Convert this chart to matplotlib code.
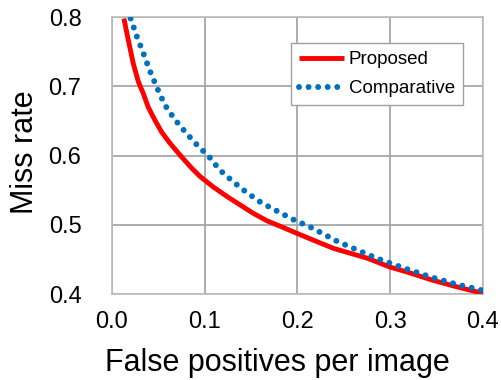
import matplotlib
matplotlib.use("Agg")
import matplotlib.pyplot as plt

plt.rcParams['font.family'] = ['Liberation Sans', 'DejaVu Sans']

# Proposed (red solid)
prop_x = [0.0129, 0.0176, 0.0230, 0.0284, 0.0337, 0.0391, 0.0464, 0.0536, 0.0625,
          0.0752, 0.0859, 0.0949, 0.109, 0.124, 0.138, 0.152, 0.167, 0.185, 0.199,
          0.217, 0.239, 0.275, 0.300, 0.318, 0.346, 0.372, 0.400]
prop_y = [0.798, 0.767, 0.733, 0.707, 0.690, 0.670, 0.651, 0.634, 0.618,
          0.598, 0.582, 0.570, 0.555, 0.541, 0.529, 0.517, 0.506, 0.496, 0.488,
          0.478, 0.466, 0.452, 0.439, 0.432, 0.420, 0.4105, 0.401]

# Comparative (blue dotted)
comp_x = [0.0201, 0.0266, 0.0338, 0.041, 0.0489, 0.0571, 0.0679, 0.0798, 0.092,
          0.105, 0.1164, 0.131, 0.145, 0.161, 0.178, 0.195, 0.2135, 0.2307, 0.240,
          0.257, 0.285, 0.314, 0.343, 0.372, 0.395, 0.400]
comp_y = [0.798, 0.773, 0.748, 0.722, 0.697, 0.673, 0.652, 0.633, 0.615,
          0.598, 0.579, 0.562, 0.547, 0.532, 0.520, 0.508, 0.497, 0.485, 0.478,
          0.468, 0.452, 0.438, 0.425, 0.414, 0.407, 0.405]

xticks = [0.0, 0.1, 0.2, 0.3, 0.4]
yticks = [0.4, 0.5, 0.6, 0.7, 0.8]

fig = plt.figure(figsize=(5.02, 3.80), dpi=100)
ax = fig.add_axes([0.223, 0.226, 0.739, 0.729])

ax.plot(prop_x, prop_y, color='#FF0000', lw=3.5, label='Proposed',
        solid_capstyle='butt', solid_joinstyle='round', zorder=3)
ax.plot(comp_x, comp_y, color='#0070C0', lw=4.3, linestyle=(0, (0.001, 1.6)),
        dash_capstyle='round', label='Comparative', zorder=4)

ax.set_xlim(0, 0.4)
ax.set_ylim(0.4, 0.8)
ax.set_xticks(xticks)
ax.set_yticks(yticks)
ax.set_xticklabels([f"{v:.1f}" for v in xticks], fontsize=17)
ax.set_yticklabels([f"{v:.1f}" for v in yticks], fontsize=17)
ax.tick_params(length=0)
ax.tick_params(axis='x', pad=12)
ax.tick_params(axis='y', pad=22)
ax.grid(True, color='#A0A0A0', lw=1.2)
ax.set_axisbelow(True)
for s in ax.spines.values():
    s.set_color('#BBBBBB')
    s.set_linewidth(1.2)

ax.set_xlabel('False positives per image', fontsize=22)
ax.set_ylabel('Miss rate', fontsize=22)
ax.xaxis.set_label_coords(0.447, -0.249)
ax.xaxis.label.set_va('center')
ax.yaxis.set_label_coords(-0.2345, 0.513)
ax.yaxis.label.set_va('center')

leg = ax.legend(loc='upper right', bbox_to_anchor=(0.946, 0.906), fontsize=13.5,
                frameon=True, fancybox=False, handlelength=2.4, handletextpad=0.27,
                borderpad=0.42, labelspacing=0.65, borderaxespad=0)
leg.get_frame().set_edgecolor('#A0A0A0')
leg.get_frame().set_linewidth(1.0)
leg.get_frame().set_alpha(1)

fig.savefig('out.png', dpi=100)
